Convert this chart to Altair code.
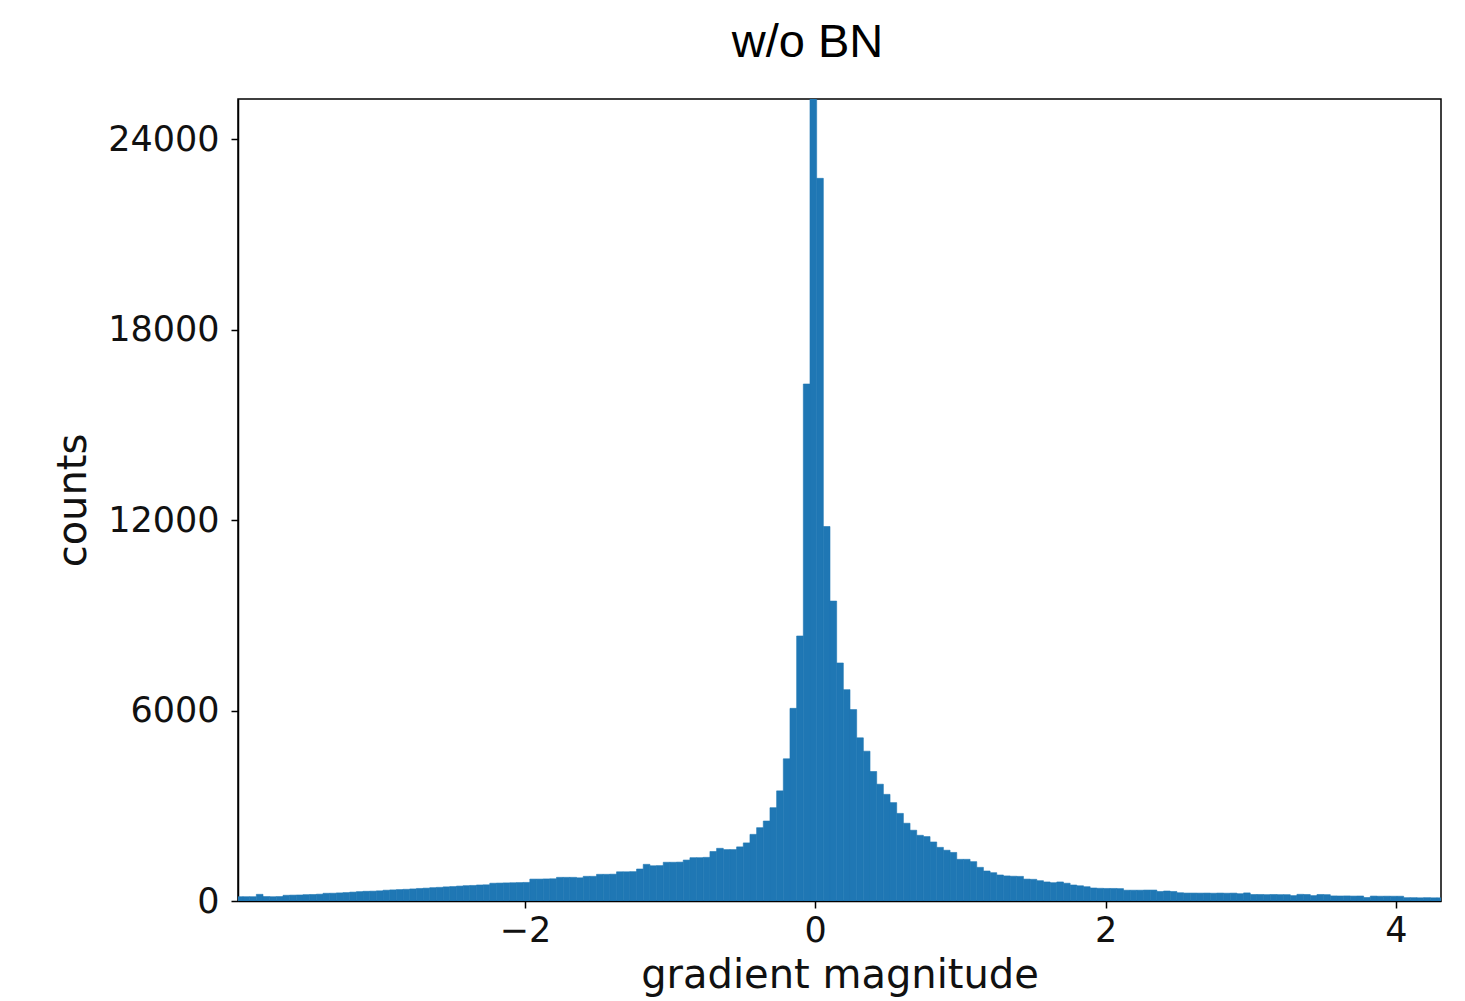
import altair as alt
import pandas as pd

# histogram of gradient magnitudes (w/o BN)
bin_start = -0.0358      # left edge of the peak bin
bin_width = 0.04595
first_index = -86        # index of the leftmost bin relative to the peak bin

counts = [
    # j = -86 .. -1
    135, 135, 135, 210, 140, 135, 140, 180, 185, 190,
    200, 205, 215, 243, 245, 255, 265, 280, 295, 305,
    310, 320, 340, 350, 360, 368, 380, 395, 405, 420,
    430, 445, 455, 470, 483, 490, 505, 510, 560, 565,
    570, 575, 580, 585, 690, 690, 695, 700, 745, 745,
    745, 730, 777, 777, 840, 840, 845, 920, 920, 925,
    1008, 1155, 1110, 1115, 1220, 1220, 1225, 1290, 1365, 1365,
    1375, 1560, 1660, 1620, 1620, 1705, 1830, 2100, 2310, 2520,
    2940, 3470, 4480, 6070, 8350, 16290,
    # j = 0 (peak, clipped)
    30000,
    # j = 1 .. 94
    22770, 11800, 9450, 7500, 6660, 6030, 5140, 4720, 4080, 3680,
    3360, 3100, 2760, 2450, 2230, 2070, 2030, 1860, 1690, 1600,
    1530, 1313, 1313, 1240, 1060, 945, 892, 820, 790, 780,
    775, 690, 683, 640, 600, 577, 600, 560, 504, 480,
    450, 410, 400, 395, 395, 390, 340, 340, 340, 345,
    345, 300, 315, 300, 260, 250, 250, 248, 250, 245,
    250, 245, 248, 230, 255, 205, 205, 200, 205, 200,
    200, 170, 210, 205, 170, 205, 200, 160, 158, 160,
    155, 158, 110, 155, 150, 152, 150, 150, 105, 105,
    100, 105, 100, 100,
]

x_min, x_max = -3.976, 4.311
y_max = 25270
x_ticks = [-2, 0, 2, 4]
y_ticks = [0, 6000, 12000, 18000, 24000]

lo = [bin_start + (first_index + i) * bin_width for i in range(len(counts))]
hi = [v + bin_width for v in lo]
df = pd.DataFrame({"lo": lo, "hi": hi, "count": counts})

bars = alt.Chart(df).mark_rect(color="#1f77b4", clip=True, stroke="#1f77b4",
                               strokeWidth=0.6).encode(
    x=alt.X("lo:Q",
            scale=alt.Scale(domain=[x_min, x_max], nice=False, zero=False),
            axis=alt.Axis(values=x_ticks, title="gradient magnitude", format="d",
                          grid=False, tickSize=7, tickWidth=1.5, tickColor="black",
                          domainColor="black", domainWidth=1.5,
                          labelFont="DejaVu Sans", labelFontSize=35, labelColor="#111",
                          labelPadding=5,
                          titleFont="DejaVu Sans", titleFontSize=40, titleFontWeight="normal",
                          titleColor="#111", titlePadding=7)),
    x2="hi:Q",
    y=alt.Y("count:Q",
            scale=alt.Scale(domain=[0, y_max], nice=False),
            axis=alt.Axis(values=y_ticks, title="counts", format="d",
                          grid=False, tickSize=7, tickWidth=1.5, tickColor="black",
                          domainColor="black", domainWidth=1.5,
                          labelFont="DejaVu Sans", labelFontSize=35, labelColor="#111",
                          labelPadding=12,
                          titleFont="DejaVu Sans", titleFontSize=40, titleFontWeight="normal",
                          titleColor="#111", titlePadding=14)),
    y2=alt.datum(0),
)

chart = bars.properties(
    width=1203,
    height=802,
    title=alt.Title("w/o BN", font="Liberation Sans", fontSize=47, fontWeight="normal",
                    color="black", anchor="middle", dx=-32, offset=32),
    autosize=alt.AutoSizeParams(type="none"),
    padding={"left": 230, "top": 91, "right": 16, "bottom": 100},
).configure(background="white").configure_view(stroke="black", strokeWidth=1.5)

chart.save("out.html", embed_options={"renderer": "svg", "actions": False})
